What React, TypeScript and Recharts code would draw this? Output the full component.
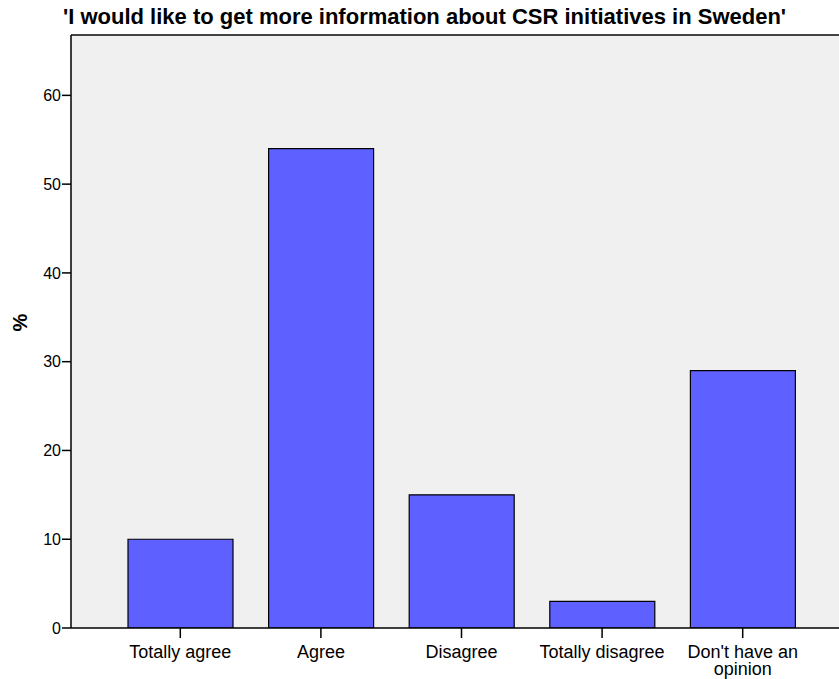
import React from 'react'
import {
  BarChart,
  Bar,
  XAxis,
  YAxis,
  CartesianGrid,
  ReferenceLine,
  Label,
  Text,
} from 'recharts'

const categories = ['Totally agree', 'Agree', 'Disagree', 'Totally disagree', "Don't have an opinion"]
const percents = [10, 54, 15, 3, 29]
const yTicks = [0, 10, 20, 30, 40, 50, 60]
const yMax = 66.8

const data = categories.map((c, i) => ({ name: c, value: percents[i] }))

const FONT = '"Liberation Sans", Arial, sans-serif'

function CategoryTick(props: any) {
  const { x, y, payload } = props
  return (
    <Text
      x={x}
      y={y + 5}
      width={140}
      textAnchor="middle"
      verticalAnchor="start"
      lineHeight={17}
      fill="#000"
      style={{ fontSize: 18, fontFamily: FONT }}
    >
      {payload.value}
    </Text>
  )
}

export default function App() {
  return (
    <div style={{ position: 'absolute', left: 0, top: 0, width: 839, height: 679, overflow: 'hidden', background: '#fff' }}>
      <div
        style={{
          position: 'absolute',
          left: 63,
          top: 4,
          fontFamily: FONT,
          fontWeight: 'bold',
          fontSize: 22,
          whiteSpace: 'nowrap',
          color: '#000',
        }}
      >
        'I would like to get more information about CSR initiatives in Sweden'
      </div>
      <BarChart
        width={860}
        height={679}
        data={data}
        margin={{ top: 35, right: 8, bottom: 0, left: 0 }}
        style={{ position: 'absolute', left: 0, top: 0 }}
      >
        <CartesianGrid fill="#F0F0F0" stroke="none" horizontal={false} vertical={false} />
        <ReferenceLine y={yMax} stroke="#444" strokeWidth={2} ifOverflow="extendDomain" />
        <XAxis
          dataKey="name"
          interval={0}
          height={51}
          padding={{ left: 39, right: 39 }}
          axisLine={{ stroke: '#000', strokeWidth: 1.5 }}
          tickLine={{ stroke: '#000', strokeWidth: 1.5 }}
          tickSize={10}
          tick={<CategoryTick />}
        />
        <YAxis
          width={71}
          domain={[0, yMax]}
          ticks={yTicks}
          allowDataOverflow
          axisLine={{ stroke: '#000', strokeWidth: 1.5 }}
          tickLine={{ stroke: '#000', strokeWidth: 1.5 }}
          tickSize={9}
          tickMargin={1}
          tick={{ fill: '#000', fontSize: 16, fontFamily: FONT }}
        >
          <Label
            value="%"
            angle={-90}
            position="insideLeft"
            offset={20}
            style={{ fontWeight: 'bold', fontSize: 20, fontFamily: FONT, fill: '#000' }}
          />
        </YAxis>
        <Bar
          dataKey="value"
          barSize={105}
          fill="#5E60FF"
          stroke="#000"
          strokeWidth={1.2}
          isAnimationActive={false}
        />
      </BarChart>
    </div>
  )
}
